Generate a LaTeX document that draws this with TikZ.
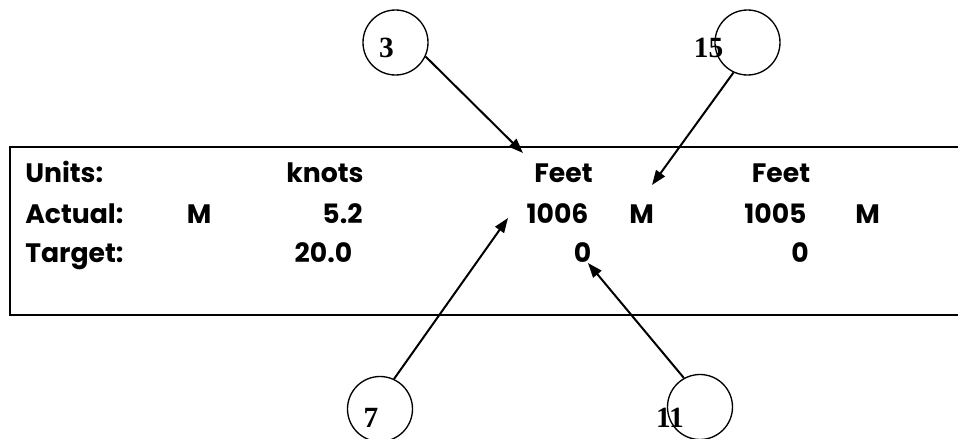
\documentclass[tikz,border=0pt]{standalone}
\usepackage{fontspec}
\setmainfont{Liberation Serif}
\newfontfamily\gothic{Poppins}
\usetikzlibrary{arrows.meta}
\begin{document}
\begin{tikzpicture}[x=0.75pt,y=-0.75pt,
  lbl/.style={font=\gothic\bfseries\fontsize{20}{24}\selectfont,anchor=base,inner sep=0pt},
  head/.style={lbl,anchor=base west},
  num/.style={font=\bfseries\fontsize{22}{26}\selectfont,anchor=base,inner sep=0pt},
  ring/.style={circle,draw,line width=1pt,minimum size=48.75pt,inner sep=0pt},
  pointer/.style={line width=1.5pt,-{Triangle[length=11pt,width=8pt]}},
  frame/.style={line width=1.6pt}]
\useasboundingbox (0,0) rectangle (958,439);
\fill[white] (0,0) rectangle (958,439);
% panel frame (open at right)
\coordinate (tr) at (958,147);
\coordinate (tl) at (10,147);
\coordinate (bl) at (10,315);
\coordinate (br) at (958,315);
\draw[frame] (tr) -- (tl) -- (bl) -- (br);
% texts
\node[head] (units) at (25,182) {Units:};
\node[lbl] (knots) at (325,182) {knots};
\node[lbl] (feetA) at (563.5,182) {Feet};
\node[lbl] (feetB) at (781,182) {Feet};
\node[head] (actual) at (25,223) {Actual:};
\node[lbl] (mA) at (199,223) {M};
\node[lbl] (speed) at (342.5,223) {5.2};
\node[lbl] (altA) at (557.5,223) {1006};
\node[lbl] (mB) at (641.5,223) {M};
\node[lbl] (altB) at (775.5,223) {1005};
\node[lbl] (mC) at (867.5,223) {M};
\node[head] (target) at (25,262) {Target:};
\node[lbl] (tspeed) at (323.5,262) {20.0};
\node[lbl] (tA) at (582.5,262) {0};
\node[lbl] (tB) at (800,262) {0};
% circles
\node[ring] (c3) at (395.5,42.5) {};
\node[ring] (c15) at (747.5,42.5) {};
\node[ring] (c7) at (380,409) {};
\node[ring] (c11) at (700,407) {};
\node[num] (n3) at (386.5,57) {3};
\node[num] (n15) at (708.5,57) {15};
\node[num] (n7) at (371,427) {7};
\node[num] (n11) at (670,427) {11};
% arrow tips
\coordinate (p3) at (523,153);
\coordinate (p15) at (652,185);
\coordinate (p7) at (508,218);
\coordinate (p11) at (588,263);
\draw[pointer] (c3.-25) -- (p3);
\draw[pointer] (c15.-115) -- (p15);
\draw[pointer] (c7.65) -- (p7);
\draw[pointer] (c11.119) -- (p11);
\end{tikzpicture}
\end{document}
